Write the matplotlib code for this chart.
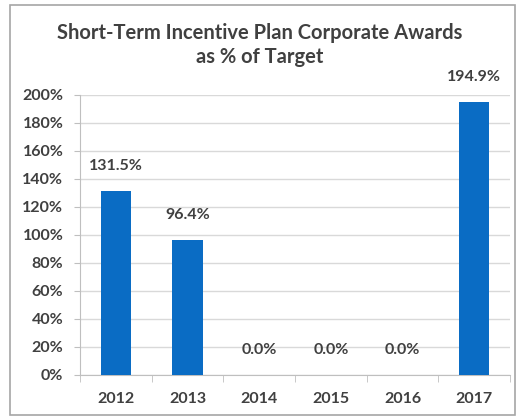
import matplotlib.pyplot as plt
from matplotlib.patches import Rectangle
from matplotlib.ticker import FuncFormatter, FixedLocator

years = ['2012', '2013', '2014', '2015', '2016', '2017']
awards = [131.5, 96.4, 0.0, 0.0, 0.0, 194.9]

plt.rcParams['font.family'] = ['Lato', 'DejaVu Sans']
text_color = '#404040'

fig = plt.figure(figsize=(5.2, 4.18), dpi=100)
fig.patches.append(Rectangle((10 / 520, 3 / 418), 505 / 520, 410 / 418,
                             transform=fig.transFigure, fill=False,
                             edgecolor='#a6a6a6', linewidth=1.2))
ax = fig.add_axes([80 / 520, 1 - 375 / 418, 430 / 520, 280 / 418])

x = range(len(years))
bars = ax.bar(x, awards, width=0.42, color='#0a6cc4', zorder=3)
for xi, v in zip(x, awards):
    ax.annotate(f'{v:.1f}%', (xi, v), xytext=(0, 13), textcoords='offset points',
                ha='center', va='bottom', fontsize=11.5, fontweight='bold',
                color=text_color)

ax.set_xlim(-0.5, len(years) - 0.5)
ax.set_ylim(0, 200)
ax.set_yticks(range(0, 201, 20))
ax.yaxis.set_major_formatter(FuncFormatter(lambda v, p: f'{v:.0f}%'))
ax.set_xticks(list(x))
ax.set_xticklabels(years)
ax.xaxis.set_minor_locator(FixedLocator([i - 0.5 for i in range(len(years) + 1)]))
ax.tick_params(axis='x', which='major', length=0, pad=12)
ax.tick_params(axis='x', which='minor', length=5, color='#bfbfbf')
ax.tick_params(axis='y', length=4, color='#bfbfbf', pad=8)
for lab in ax.get_xticklabels() + ax.get_yticklabels():
    lab.set_fontsize(11.5)
    lab.set_fontweight('bold')
    lab.set_color(text_color)

ax.grid(True, axis='y', color='#d9d9d9', linewidth=1, zorder=0)
for side in ['top', 'right']:
    ax.spines[side].set_visible(False)
ax.spines['left'].set_color('#bfbfbf')
ax.spines['bottom'].set_color('#bfbfbf')

fig.text(0.5, 1 - 33 / 418, 'Short-Term Incentive Plan Corporate Awards',
         ha='center', va='center', fontsize=14.5, fontweight='bold', color=text_color)
fig.text(0.5, 1 - 57 / 418, 'as % of Target',
         ha='center', va='center', fontsize=14.5, fontweight='bold', color=text_color)

fig.savefig('out.png', dpi=100)
